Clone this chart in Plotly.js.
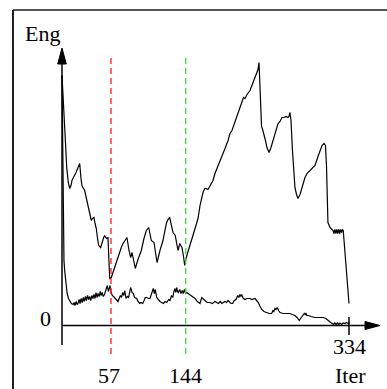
<!DOCTYPE html>
<html>
<head>
<meta charset="utf-8">
<script src="https://cdn.plot.ly/plotly-3.0.1.min.js"></script>
<style>html,body{margin:0;padding:0;background:#fff;}#chart{width:387px;height:389px;}</style>
</head>
<body>
<div id="chart"></div>
<script>
// ---- data (Iter, Eng) ----
const iterA = [0,1.7,3.5,5.5,7.3,9,10.5,11.6,13,14.5,16.3,18,19.5,20.6,22.1,23.2,24.4,26.4,27.9,29.7,31,32.2,34.1,35.5,37.2,38.5,39.9,41.5,42.7,45,47.1,48.5,49.7,51.6,53.5,54.3,55.5,57.4,59.9,63.2,66.3,69,71,73,75.6,78,79.9,81.5,83.2,85.3,88.4,92.3,95.4,98.1,100.9,102.4,103.9,105.5,107.1,108.8,110.6,114,117.5,121.4,123.3,125.3,127.4,129.2,131.8,133.2,135,137,139.6,141.4,142.8,144.3,146.6,149.5,152.4,155.4,158.3,160.6,162.1,164.1,166.1,167.6,169.9,172.2,175.7,178,180.4,183.9,186.2,189.7,193.2,195.5,197.8,199,202.5,206,209.5,211.2,213,215.3,218.8,221.1,224.6,226.9,228.1,229.3,231,232.2,233.5,235,236.8,238.5,240.9,243.2,246.7,249,251.4,253.7,256,258.3,260.7,263,264.2,265.3,266.5,268.2,270,271.1,272.9,274.6,277,279.3,282.8,285.1,288.6,290.9,294.4,297.9,301.4,302.6,304.9,306.6,307.8,309,309.5,311.9,314,315.4,316.5,317.6,318.7,319.8,320.9,322,323.1,324.2,325.3,326.4,327.3,334];
const engA  = [250,215,192,158,143,137,140,145,148,150,153,157,160,162,147,140,138,135,129,121,116,112,105,107,108,102,97,86,80,78,85,88,90,87,88,70,47,48,55,63,73,78,82,85,88,75,68,73,65,57,66,75,87,95,98,91,85,84,83,73,63,75,85,102,106,108,99,93,90,82,75,82,78,69,60,67,75,82,90,98,107,120,127,133,137,137,136,140,145,152,157,163,168,177,185,192,195,198,207,217,225,228,227,231,235,240,248,253,256,263,225,199,196,192,185,178,173,178,188,195,202,204,208,208,209,208,209,213,205,175,145,138,131,127,131,138,148,152,155,157,160,169,177,180,182,180,160,130,103,98,96,95,92,96,92,96,92,96,92,96,93,96,95,22];

const iterB = [0,0.6,1.4,2.3,3.1,4.7,6,7.5,9.3,11,12.8,14,15,16.5,17.5,18.6,19.8,21,22.3,23.5,24.8,26,27.2,28.4,29.7,31,32.2,33.5,34.7,36,37.2,38.4,39.6,40.8,42,43.2,44.5,45.6,46.8,48,49.5,51,52.7,54,55.9,57.2,58.5,60,61.7,63.5,65.2,66.5,68,69.3,70.5,71.8,73,74.5,76,77.5,79,79.9,81.5,83,84.5,86.9,88.5,90.4,92,93.9,95.5,96.9,98.6,100.5,102.4,104,105,106.2,107.5,108.6,110.2,112,114,116,117.9,120,122,124,125.7,127.5,129,130.3,131.5,132.5,133.5,134.5,135.3,137,138.5,140,141.2,142.5,144,145.2,147,151,154.8,157.5,160.6,162.6,164.5,166.4,169,172.2,175,178,180,182,184,186,187.7,189.7,191.5,193.2,195.5,197,198.6,200.5,202.5,204.5,205.8,207,208,209,211,213,215,218.8,221,224.6,226.5,228.4,230,232.4,235,238.2,241,244,245.5,246.5,247.8,249,250.5,252,253.7,257.5,261,265.3,268,271.1,273.5,276.1,278.5,280.8,282,283,283.9,285,286.6,290,294.4,299,304.1,307,309.9,312.5,315.7,317.5,319,320.5,322,323.5,325.5,327,329.3,331,333.2,334];
const engB  = [250,175,105,65,55,38,32,27,24,22,21,23,20,24,21,22,26,22,27,23,28,24,29,25,30,26,29,25,30,27,31,27,33,28,32,29,34,30,33,29,31,35,40,34,40,33,30,29,27,25,24,27,30,28,33,30,35,27,29,28,33,38,33,32,28,27,24,22,23,22,25,28,28,27,27,31,35,37,32,36,28,26,24,23,22,24,23,26,25,30,28,34,37,33,38,34,33,36,32,35,32,36,32,33,32,29,27,24,22,28,26,25,23,23,22,24,23,22,24,22,23,24,23,25,23,22,22,25,26,30,28,31,29,31,27,26,27,27,26,27,25,23,20,16,14,13,12,12,15,14,17,16,18,15,13,12,12,12,11,10,8,5,8,10,12,11,12,10,10,9,8,8,8,7,5,3,1,2.5,1,2.5,1,2.5,1,2.5,2,3,2,3];

// markers and labels
const markIters  = [57, 144];
const markColors = ['#ff1a1a', '#33dd33'];
const xTickVals  = [57, 144, 334];
const xTickText  = ['57', '144', '334'];
const yTickVals  = [0];
const yTickText  = ['0'];
const xTitle = 'Iter';
const yTitle = 'Eng';

// ---- geometry ----
const W = 387, H = 389;
const L = 50, R = 7, T = 48, B = 32;
const S = 287 / 334;                 // px per iteration
const X0 = 62, Y0 = 325.5;           // pixel of origin
const xRange = [(L - X0) / S, (W - R - X0) / S];
const yRange = [Y0 - (H - B), Y0 - T];
const PW = W - L - R, PH = H - T - B;
const px = p => (p - L) / PW;        // pixel -> paper
const py = p => (H - B - p) / PH;
const xp = v => X0 + v * S;          // data -> pixel

const FONT = 'Liberation Serif, Times New Roman, serif';

const traces = [
  {x: iterA, y: engA, mode: 'lines', line: {color: '#000', width: 1.2}, hoverinfo: 'skip'},
  {x: iterB, y: engB, mode: 'lines', line: {color: '#000', width: 1.2}, hoverinfo: 'skip'}
];

const shapes = [];
// frame (top & left)
shapes.push({type: 'line', xref: 'paper', yref: 'paper', x0: px(13), x1: px(387), y0: py(10), y1: py(10), line: {color: '#555', width: 2}});
shapes.push({type: 'line', xref: 'paper', yref: 'paper', x0: px(13), x1: px(13), y0: py(10), y1: py(389), line: {color: '#222', width: 2}});
// marker lines
markIters.forEach((m, i) => {
  shapes.push({type: 'line', xref: 'paper', yref: 'paper', x0: px(xp(m)), x1: px(xp(m)), y0: py(58), y1: py(356),
    line: {color: markColors[i], width: 1.3, dash: '6px,4px'}});
});
// axes
shapes.push({type: 'line', xref: 'paper', yref: 'paper', x0: px(X0), x1: px(368), y0: py(Y0), y1: py(Y0), line: {color: '#000', width: 1.5}});
shapes.push({type: 'line', xref: 'paper', yref: 'paper', x0: px(X0), x1: px(X0), y0: py(345), y1: py(60), line: {color: '#000', width: 1.5}});
// arrowheads
shapes.push({type: 'path', xref: 'paper', yref: 'paper', fillcolor: '#000', line: {color: '#000', width: 1},
  path: `M ${px(X0)} ${py(48)} L ${px(X0 - 4.3)} ${py(64)} L ${px(X0 + 4.3)} ${py(64)} Z`});
shapes.push({type: 'path', xref: 'paper', yref: 'paper', fillcolor: '#000', line: {color: '#000', width: 1},
  path: `M ${px(380)} ${py(Y0)} L ${px(365)} ${py(Y0 - 4)} L ${px(365)} ${py(Y0 + 4)} Z`});
// end tick at last iteration
shapes.push({type: 'line', xref: 'paper', yref: 'paper', x0: px(xp(xTickVals[2])), x1: px(xp(xTickVals[2])), y0: py(317), y1: py(335), line: {color: '#000', width: 1.5}});

const fnt = {family: FONT, size: 22, color: '#000'};
const ann = [];
const tickY = [375.5, 375.5, 346];
const tickShift = [-2, 0, 0];
xTickVals.forEach((v, i) => {
  ann.push({text: xTickText[i], xref: 'paper', yref: 'paper', x: px(xp(v) + tickShift[i]), y: py(tickY[i]),
    xanchor: 'center', yanchor: 'middle', showarrow: false, font: fnt});
});
yTickVals.forEach((v, i) => {
  ann.push({text: yTickText[i], xref: 'paper', yref: 'paper', x: px(45.5), y: py(Y0 - v - 7),
    xanchor: 'center', yanchor: 'middle', showarrow: false, font: fnt});
});
ann.push({text: xTitle, xref: 'paper', yref: 'paper', x: px(350), y: py(375.5), xanchor: 'center', yanchor: 'middle', showarrow: false, font: fnt});
ann.push({text: yTitle, xref: 'paper', yref: 'paper', x: px(42.5), y: py(33), xanchor: 'center', yanchor: 'middle', showarrow: false, font: fnt});

const layout = {
  width: W, height: H,
  margin: {l: L, r: R, t: T, b: B, pad: 0},
  paper_bgcolor: '#fff', plot_bgcolor: '#fff',
  showlegend: false,
  xaxis: {range: xRange, visible: false, fixedrange: true},
  yaxis: {range: yRange, visible: false, fixedrange: true},
  shapes: shapes,
  annotations: ann
};

Plotly.newPlot('chart', traces, layout, {staticPlot: true, displayModeBar: false});
</script>
</body>
</html>
